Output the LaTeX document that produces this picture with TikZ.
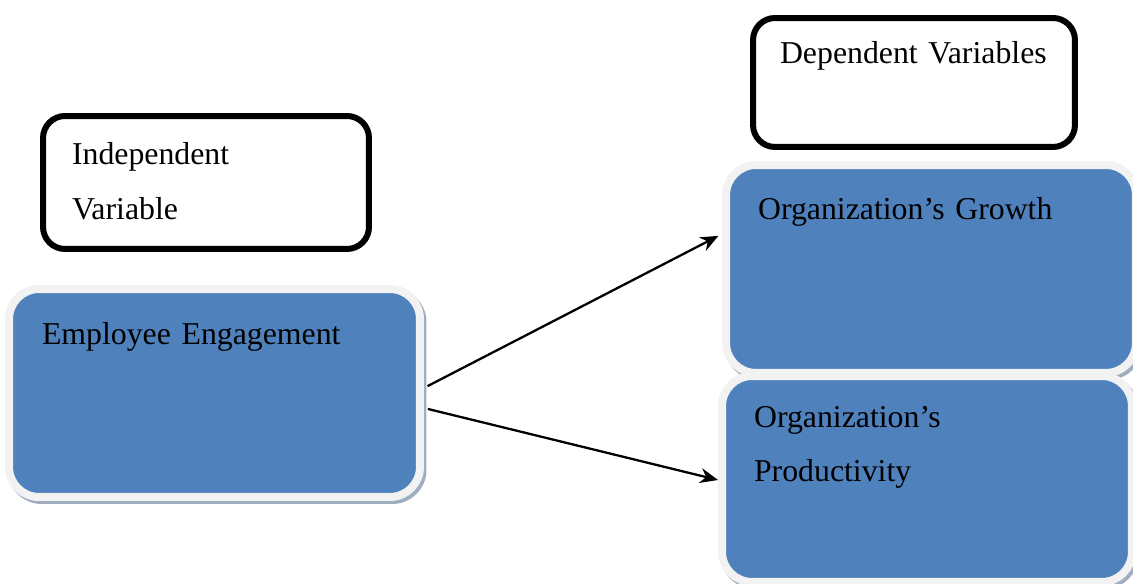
\documentclass[tikz,border=0pt]{standalone}
\usepackage{fontspec}
\setmainfont{Liberation Serif}
\usepackage{tikz}
\usetikzlibrary{arrows.meta, positioning, shadows}
\definecolor{engblue}{RGB}{79,129,189}
\definecolor{engrim}{RGB}{242,242,242}
\definecolor{engshade}{RGB}{160,172,192}

\tikzset{
  varlabel/.style={draw=black, line width=0.12cm, rounded corners=0.44cm, fill=white,
    align=left, inner ysep=0pt, font=\fontsize{18.1}{31}\selectfont},
  varbox/.style={draw=engrim, fill=engblue, line width=0.16cm, rounded corners=0.6cm,
    align=left, inner ysep=0pt, font=\fontsize{18.1}{31}\selectfont,
    drop shadow={shadow xshift=0.05cm, shadow yshift=-0.06cm, fill=engshade,
      draw=engshade, line width=0.16cm, opacity=1}},
  link/.style={line width=1.3pt, -{Stealth[length=0.36cm, width=0.3cm]}}
}

\begin{document}
\begin{tikzpicture}[x=0.02cm, y=0.02cm]
    \useasboundingbox (0,0) rectangle (1133,584);
    % headings
    \node[varlabel, inner xsep=0.58cm, text width=5.36cm, text height=0.98cm, text depth=1.68cm]
      (indep) at (206,401.5) {Independent\\Variable};
    \node[varlabel, inner xsep=0.54cm, text width=5.36cm, text height=0.92cm, text depth=1.66cm]
      (dep) at (914,501.5) {Dependent Variables};
    % variables
    \node[varbox, inner xsep=0.66cm, text width=6.9cm, text height=1.10cm, text depth=3.06cm]
      (engage) at (214.5,191) {Employee Engagement};
    \node[varbox, inner xsep=0.64cm, text width=6.92cm, text height=1.08cm, text depth=3.08cm]
      (growth) at (931,315) {Organization’s Growth};
    \node[varbox, inner xsep=0.64cm, text width=6.92cm, text height=1.02cm, text depth=3.10cm]
      (product) at (927,105) {Organization’s\\Productivity};
    \draw[link, shorten <=0.08cm, shorten >=0.08cm] ([yshift=0.1cm]engage.east) -- ([yshift=0.7cm]growth.west);
    \draw[link, shorten <=0.08cm] ([yshift=-0.3cm]engage.east) -- ([yshift=-0.02cm]product.west);
  \end{tikzpicture}
\end{document}
